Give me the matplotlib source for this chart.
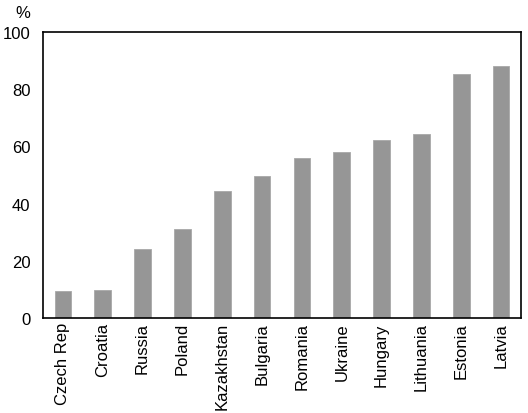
import matplotlib
matplotlib.use("Agg")
import matplotlib.pyplot as plt

plt.rcParams['font.family'] = ['Liberation Sans', 'DejaVu Sans']

# Data
countries = ['Czech Rep', 'Croatia', 'Russia', 'Poland', 'Kazakhstan', 'Bulgaria',
             'Romania', 'Ukraine', 'Hungary', 'Lithuania', 'Estonia', 'Latvia']
values = [9.4, 9.8, 24, 31, 44.3, 49.8, 56, 58.2, 62.1, 64.2, 85.4, 88.1]
yticks = [0, 20, 40, 60, 80, 100]

fig = plt.figure(figsize=(5.28, 4.14), dpi=100)
ax = fig.add_axes([43/528, 1 - 319/414, 478/528, 286/414])

x = range(len(countries))
ax.bar(x, values, width=0.42, color='#969696', edgecolor='#a8a8a8', linewidth=0.6)

ax.set_xlim(-0.5, len(countries) - 0.5)
ax.set_ylim(0, 100)
ax.set_yticks(yticks)
ax.set_xticks(list(x))
ax.set_xticklabels(countries, rotation=90)
ax.tick_params(axis='both', length=0, labelsize=12)
ax.tick_params(axis='x', pad=3)
ax.tick_params(axis='y', pad=9)

for s in ax.spines.values():
    s.set_linewidth(1.2)
    s.set_color('black')

fig.text(23/528, 1 - 14/414, '%', fontsize=12, ha='center', va='center')

fig.savefig('out.png', dpi=100)
